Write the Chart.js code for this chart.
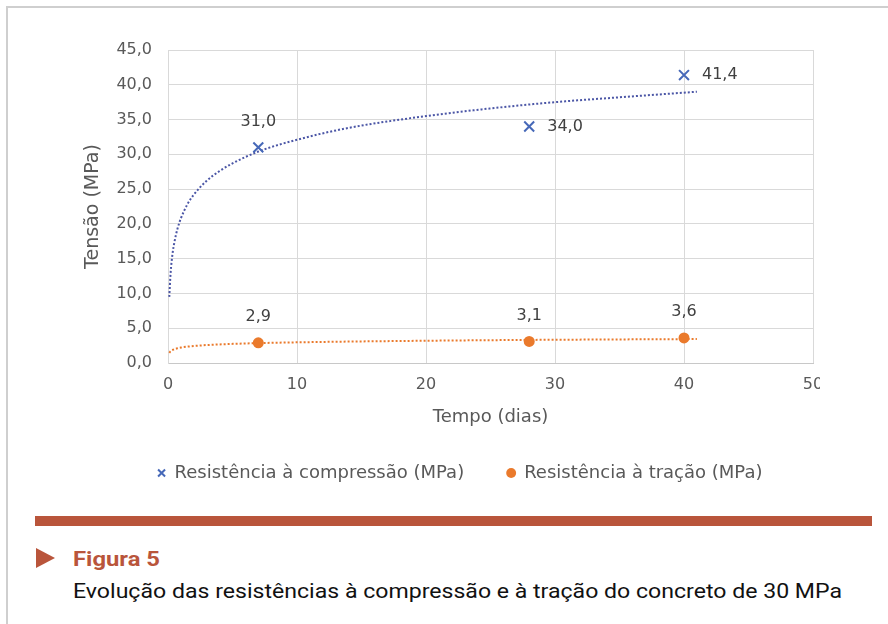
<!DOCTYPE html>
<html>
<head>
<meta charset="utf-8">
<script src="https://cdn.jsdelivr.net/npm/chart.js@4.4.0/dist/chart.umd.min.js"></script>
<style>
  html, body { margin: 0; padding: 0; background: #fff; }
  body { width: 888px; height: 624px; position: relative; overflow: hidden; }
  #frame { position: absolute; left: 6px; top: 6px; right: -4px; bottom: -4px;
           border-top: 2px solid #cfcfcf; border-left: 2px solid #cfcfcf; }
  #plotWrap { position: absolute; left: 0; top: 0; width: 820px; height: 500px; overflow: hidden; }
  #chart { position: absolute; left: 0; top: 0; filter: blur(0.5px); }
  #rule { position: absolute; left: 35px; top: 516px; width: 837px; height: 10px; background: #b9553b; }
  #arrow { position: absolute; left: 36px; top: 548px; width: 0; height: 0;
           border-left: 19px solid #b9553b; border-top: 10.5px solid transparent;
           border-bottom: 10.5px solid transparent; }
  .cap { position: absolute; left: 73px; white-space: nowrap; transform-origin: 0 0;
         font-family: Roboto, "Open Sans", sans-serif; font-size: 21px; line-height: 21px; }
  #figNum { top: 549px; font-weight: 700; color: #b9553b; }
  #caption { top: 581px; color: #111; }
</style>
</head>
<body>
<div id="frame"></div>
<div id="plotWrap"><canvas id="chart" width="888" height="500"></canvas></div>
<div id="rule"></div>
<div id="arrow"></div>
<div id="figNum" class="cap" data-width="87">Figura 5</div>
<div id="caption" class="cap" data-width="769">Evolução das resistências à compressão e à tração do concreto de 30 MPa</div>

<script>
// Measured strengths (MPa) at each age (days)
const days = [7, 28, 40];
const compression = [31.0, 34.0, 41.4];
const tension = [2.9, 3.1, 3.6];

// Logarithmic trend curves, sampled along the age axis
const trendDays = [0.1, 0.2, 0.35, 0.5, 0.75, 1, 1.5, 2, 3, 4, 5, 7, 10, 14, 20, 25, 30, 35, 41];
const compressionTrend = [9.5, 12.9, 15.7, 17.4, 19.4, 20.8, 22.8, 24.2, 26.2, 27.6, 28.7, 30.4, 32.1, 33.8, 35.5, 36.6, 37.5, 38.2, 39.0];
const tensionTrend = [1.46, 1.69, 1.87, 1.99, 2.12, 2.22, 2.35, 2.44, 2.58, 2.67, 2.75, 2.86, 2.97, 3.08, 3.20, 3.28, 3.34, 3.39, 3.44];

// Axis ticks and texts
const xTicks = [0, 10, 20, 30, 40, 50];
const yTicks = [0, 5, 10, 15, 20, 25, 30, 35, 40, 45];
const yTickLabels = ['0,0', '5,0', '10,0', '15,0', '20,0', '25,0', '30,0', '35,0', '40,0', '45,0'];
const seriesNames = ['Resistência à compressão (MPa)', 'Resistência à tração (MPa)'];
const xTitle = 'Tempo (dias)';
const yTitle = 'Tensão (MPa)';

const FONT = '"DejaVu Sans", sans-serif';
const BLUE = '#4668b8';
const BLUE_TREND = '#4b56a6';
const ORANGE = '#ea7a2c';

const pts = (xs, ys) => xs.map((x, i) => ({ x: x, y: ys[i] }));
const fmt = v => v.toFixed(1).replace('.', ',');

// Writes each measured value beside its marker
const valueLabels = {
  id: 'valueLabels',
  afterDatasetsDraw(chart) {
    const ctx = chart.ctx;
    chart.data.datasets.forEach((ds, i) => {
      if (!ds.labelPlacement) return;
      const meta = chart.getDatasetMeta(i);
      meta.data.forEach((el, j) => {
        const text = fmt(ds.data[j].y);
        ctx.save();
        ctx.font = '16px ' + FONT;
        ctx.fillStyle = '#404040';
        ctx.textBaseline = 'middle';
        if (ds.labelPlacement[j] === 'right') {
          ctx.textAlign = 'left';
          ctx.fillText(text, el.x + 18, el.y);
        } else {
          ctx.textAlign = 'center';
          ctx.fillText(text, el.x, el.y - 26);
        }
        ctx.restore();
      });
    });
  }
};

new Chart(document.getElementById('chart'), {
  type: 'scatter',
  data: {
    datasets: [
      {
        label: seriesNames[0],
        data: pts(days, compression),
        pointStyle: 'crossRot',
        pointRadius: 7,
        pointBorderWidth: 2,
        borderWidth: 2,
        borderColor: BLUE,
        backgroundColor: BLUE,
        labelPlacement: ['top', 'right', 'right']
      },
      {
        label: seriesNames[1],
        data: pts(days, tension),
        pointStyle: 'circle',
        pointRadius: 5.5,
        pointBorderWidth: 0,
        borderWidth: 0,
        borderColor: ORANGE,
        backgroundColor: ORANGE,
        labelPlacement: ['top', 'top', 'top']
      },
      {
        type: 'line',
        label: 'trendC',
        data: pts(trendDays, compressionTrend),
        borderColor: BLUE_TREND,
        borderWidth: 2,
        borderDash: [2, 2],
        pointRadius: 0,
        fill: false,
        cubicInterpolationMode: 'monotone'
      },
      {
        type: 'line',
        label: 'trendT',
        data: pts(trendDays, tensionTrend),
        borderColor: ORANGE,
        borderWidth: 2,
        borderDash: [2, 2],
        pointRadius: 0,
        fill: false,
        cubicInterpolationMode: 'monotone'
      }
    ]
  },
  options: {
    responsive: false,
    animation: false,
    devicePixelRatio: 1,
    layout: { padding: { left: 60, right: 28, top: 50, bottom: 8 } },
    plugins: {
      tooltip: { enabled: false },
      legend: {
        position: 'bottom',
        labels: {
          filter: item => item.datasetIndex < 2,
          usePointStyle: true,
          boxWidth: 8,
          boxHeight: 7,
          padding: 43,
          color: '#595959',
          font: { family: FONT, size: 18 }
        }
      }
    },
    scales: {
      x: {
        type: 'linear',
        min: 0,
        max: 50,
        afterBuildTicks: s => { s.ticks = xTicks.map(v => ({ value: v })); },
        grid: { color: '#d9d9d9', drawTicks: false },
        border: { color: '#c8c8c8' },
        ticks: { padding: 12, color: '#595959', maxRotation: 0,
                 font: { family: FONT, size: 16 }, callback: v => String(v) },
        title: { display: true, text: xTitle, color: '#595959',
                 font: { family: FONT, size: 18 }, padding: { top: 0, bottom: -7 } },
        afterFit: s => { s.height = 58; }
      },
      y: {
        type: 'linear',
        min: 0,
        max: 45,
        afterBuildTicks: s => { s.ticks = yTicks.map(v => ({ value: v })); },
        grid: { color: '#d9d9d9', drawTicks: false },
        border: { color: '#d9d9d9' },
        ticks: { padding: 16, color: '#595959',
                 font: { family: FONT, size: 16 },
                 callback: v => yTickLabels[yTicks.indexOf(v)] },
        title: { display: true, text: yTitle, color: '#595959',
                 font: { family: FONT, size: 19 }, padding: { top: 22, bottom: 0 } },
        afterFit: s => { s.width = 108; }
      },
      yR: {
        type: 'linear',
        position: 'right',
        display: true,
        grid: { display: false },
        ticks: { display: false },
        border: { display: false },
        afterFit: s => { s.width = 47; }
      }
    }
  },
  plugins: [valueLabels]
});

// Fit the caption lines to their set widths
function fitCaptions() {
  document.querySelectorAll('.cap').forEach(el => {
    el.style.transform = 'none';
    const target = parseFloat(el.dataset.width);
    const w = el.getBoundingClientRect().width;
    if (w > 0) el.style.transform = 'scaleX(' + (target / w) + ')';
  });
}
fitCaptions();
if (document.fonts && document.fonts.ready) document.fonts.ready.then(fitCaptions);
</script>
</body>
</html>
